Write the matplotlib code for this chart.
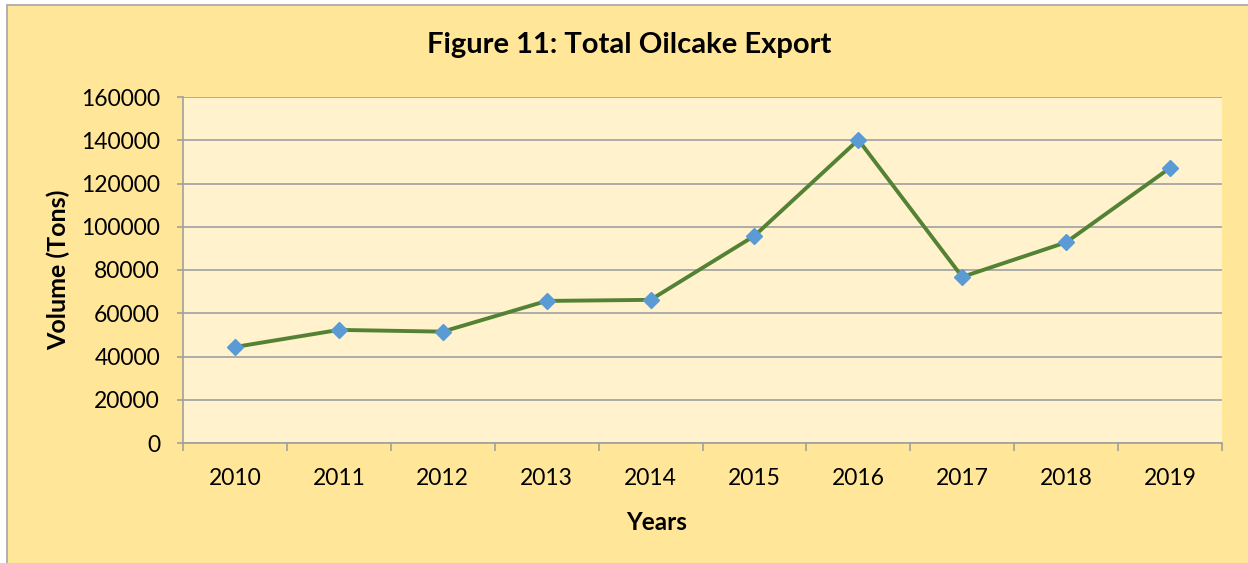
import matplotlib
matplotlib.use("Agg")
import matplotlib.pyplot as plt
from matplotlib.patches import Rectangle
from matplotlib.ticker import FixedLocator, MultipleLocator

years = ["2010", "2011", "2012", "2013", "2014", "2015", "2016", "2017", "2018", "2019"]
volume = [44400, 52300, 51500, 65700, 66200, 95800, 140200, 76800, 92800, 127200]

plt.rcParams["font.family"] = ["Lato", "DejaVu Sans"]

fig = plt.figure(figsize=(12.48, 5.63), dpi=100, facecolor="white")

# chart area background with gray border on left/top (cropped right/bottom)
bg = Rectangle((7 / 1248, -0.01), 1.02, 1 - 5 / 563 + 0.01, transform=fig.transFigure,
               facecolor="#FFE699", edgecolor="#A6A6A6", linewidth=1.2, zorder=-10)
fig.patches.append(bg)

ax = fig.add_axes([183 / 1248, 1 - 443 / 563, (1222 - 183) / 1248, (443 - 97) / 563])
ax.set_facecolor("#FFF2CC")

x = list(range(len(years)))
ax.plot(x, volume, color="#548235", linewidth=2.8, zorder=3)
ax.plot(x, volume, linestyle="none", marker="D", markersize=8.5,
        color="#5B9BD5", markeredgecolor="#5B9BD5", zorder=4)

ax.set_xlim(-0.5, len(years) - 0.5)
ax.set_ylim(0, 160000)
ax.yaxis.set_major_locator(MultipleLocator(20000))
ax.grid(True, axis="y", color="#A0A0A0", linewidth=1.2)
ax.set_axisbelow(True)

ax.set_xticks(x)
ax.set_xticklabels(years)
ax.xaxis.set_minor_locator(FixedLocator([i - 0.5 for i in range(len(years) + 1)]))
ax.tick_params(axis="x", which="major", length=0, pad=18, labelsize=16.5)
ax.tick_params(axis="x", which="minor", length=5.5, color="#A0A0A0", width=1.2)
ax.tick_params(axis="y", length=4.5, color="#A0A0A0", width=1.2, labelsize=16.5, pad=12)

for side in ["top", "right"]:
    ax.spines[side].set_visible(False)
for side in ["left", "bottom"]:
    ax.spines[side].set_color("#A0A0A0")
    ax.spines[side].set_linewidth(1.2)

fig.text(629 / 1248, 1 - 45 / 563, "Figure 11: Total Oilcake Export", ha="center", va="center",
         fontsize=21, fontweight="bold")
fig.text(58 / 1248, 1 - 270 / 563, "Volume (Tons)", ha="center", va="center", rotation=90,
         fontsize=18, fontweight="bold")
fig.text(657 / 1248, 1 - 523 / 563, "Years", ha="center", va="center",
         fontsize=17.5, fontweight="bold")

fig.savefig("out.png", dpi=100, facecolor=fig.get_facecolor())
